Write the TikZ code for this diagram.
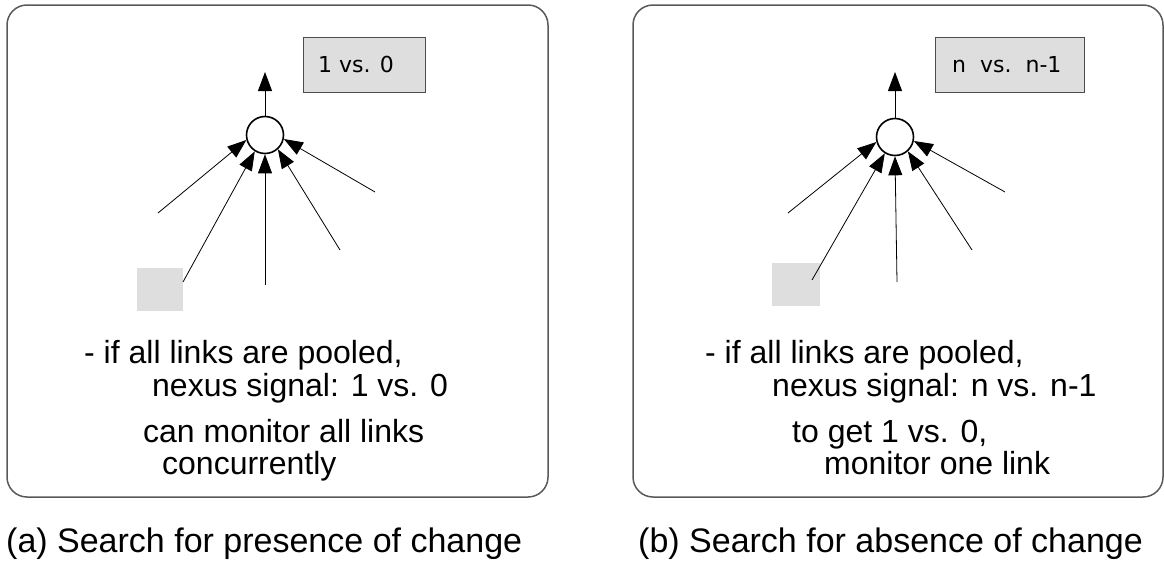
\documentclass[tikz,border=0pt]{standalone}
\usepackage{fontspec}
\setmainfont{Liberation Sans}
\newfontfamily\boxfont{DejaVu Sans}
\usetikzlibrary{arrows.meta}
\tikzset{
  panel/.style={draw=black!65, line width=1.5pt, rounded corners=20pt},
  valbox/.style={draw=black!70, line width=1.2pt, fill=black!13},
  srcbox/.style={fill=black!13, draw=none},
  hub/.style={circle, draw=black, line width=1.6pt, fill=white, minimum size=37pt, inner sep=0pt},
  link/.style={line width=0.8pt, -{Triangle[length=19pt,width=14pt]}},
  body/.style={font=\fontsize{32}{36}\selectfont, anchor=base west, inner sep=0pt},
  caption/.style={font=\fontsize{34}{38}\selectfont, anchor=base west, inner sep=0pt},
  valtext/.style={font=\boxfont\fontsize{22}{26}\selectfont, anchor=base west, inner sep=0pt}
}
\begin{document}
\begin{tikzpicture}[x=1pt,y=-1pt]
\useasboundingbox (0,0) rectangle (1164,581);
% panels
\draw[panel] (7,5) rectangle (548,497);
\draw[panel] (633,5) rectangle (1163,497);

% ---- left panel ----
\node[valbox, minimum width=122pt, minimum height=55pt, anchor=north west] (va) at (303,37) {};
\node[valtext] (vat) at (318,72) {1 vs. 0};
\node[hub] (ca) at (265,135) {};
\coordinate (oa) at (265,72);
\draw[link] (ca.north) -- (oa);
\node[srcbox, minimum width=46pt, minimum height=43pt, anchor=north west] (sa) at (137,268) {};
\coordinate (a1) at (158,213);
\coordinate (a2) at (183,282);
\coordinate (a3) at (265,285);
\coordinate (a4) at (340,250);
\coordinate (a5) at (375,192);
\draw[link] (a1) -- (ca.195);
\draw[link] (a2) -- (ca.238);
\draw[link] (a3) -- (ca.270);
\draw[link] (a4) -- (ca.312);
\draw[link] (a5) -- (ca.348);
\node[body] (ta1) at (84,363) {- if all links are pooled,};
\node[body] (ta2) at (152,396) {nexus signal: 1 vs. 0};
\node[body] (ta3) at (143,442) {can monitor all links};
\node[body] (ta4) at (162,474) {concurrently};
\node[caption] (capa) at (6,552) {(a) Search for presence of change};

% ---- right panel ----
\node[valbox, minimum width=149pt, minimum height=55pt, anchor=north west] (vb) at (935,37) {};
\node[valtext] (vbt) at (952,72) {n\ \ vs.\ \ n-1};
\node[hub] (cb) at (895,137) {};
\coordinate (ob) at (895,72);
\draw[link] (cb.north) -- (ob);
\node[srcbox, minimum width=48pt, minimum height=43pt, anchor=north west] (sb) at (772,263) {};
\coordinate (b1) at (788,213);
\coordinate (b2) at (812,280);
\coordinate (b3) at (897,282);
\coordinate (b4) at (972,250);
\coordinate (b5) at (1005,192);
\draw[link] (b1) -- (cb.195);
\draw[link] (b2) -- (cb.238);
\draw[link] (b3) -- (cb.270);
\draw[link] (b4) -- (cb.312);
\draw[link] (b5) -- (cb.348);
\node[body] (tb1) at (705,363) {- if all links are pooled,};
\node[body] (tb2) at (772,396) {nexus signal: n vs. n-1};
\node[body] (tb3) at (792,442) {to get 1 vs. 0,};
\node[body] (tb4) at (824,474) {monitor one link};
\node[caption] (capb) at (638,552) {(b) Search for absence of change};
\end{tikzpicture}
\end{document}
